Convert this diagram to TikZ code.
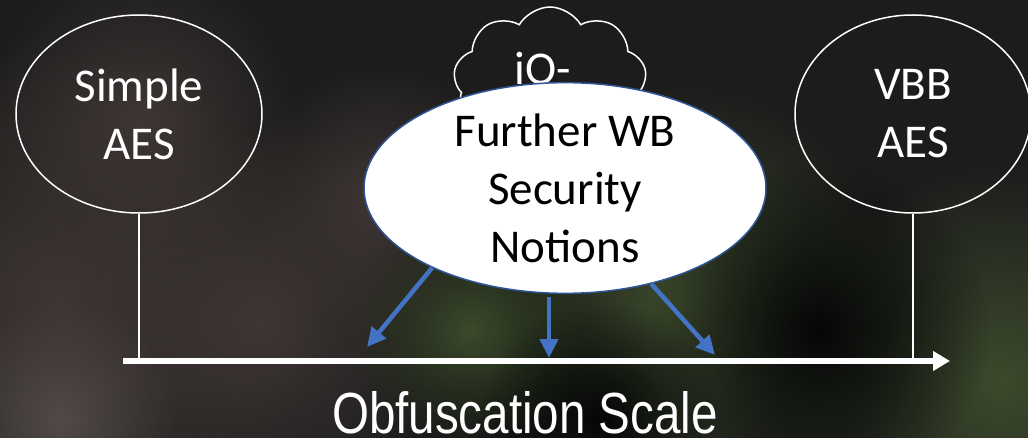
\documentclass[tikz,border=0pt]{standalone}
\usepackage{fontspec}
\setmainfont{Carlito}
\newfontfamily\scalefont[FakeStretch=0.82]{Liberation Sans}
\usetikzlibrary{shapes.geometric,shapes.symbols,arrows.meta,fadings}
\definecolor{bgdark}{HTML}{1C1C1C}
\definecolor{bgwarm}{HTML}{3E3634}
\definecolor{bggreen}{HTML}{3C4A2C}
\definecolor{bgblack}{HTML}{050706}
\definecolor{rimblue}{HTML}{2F5597}
\definecolor{arrowblue}{HTML}{4472C4}
\tikzfading[name=softspot, inner color=transparent!0, outer color=transparent!100]
\tikzset{
  level/.style={ellipse, draw=white, line width=1.5pt, inner sep=0pt,
    minimum width=246pt, minimum height=198pt, text=white, align=center,
    font=\fontsize{47}{58}\selectfont},
  notion/.style={ellipse, draw=rimblue, line width=1.5pt, fill=white, inner sep=0pt,
    minimum width=402pt, minimum height=192pt, text=black, align=center,
    font=\fontsize{47}{58}\selectfont},
  puff/.style={cloud, cloud puffs=9, cloud puff arc=120, aspect=1.3, draw=white,
    line width=1.5pt, inner sep=0pt, minimum width=193pt, minimum height=150pt},
  stem/.style={draw=white, line width=1.5pt},
  axis/.style={draw=white, line width=6pt, -{Triangle[length=17pt,width=19pt]}},
  push/.style={draw=arrowblue, line width=4.5pt, -{Triangle[length=19pt,width=18pt]}},
  glow/.style={fill=#1, path fading=softspot}
}
\begin{document}
\begin{tikzpicture}[x=1pt,y=-1pt]
  % backdrop: dark, with soft warm patches on the left and green ones on the right
  \fill[bgdark] (0,0) rectangle (1028,438);
  \useasboundingbox (0,0) rectangle (1028,438);
  \begin{scope}
    \clip (0,0) rectangle (1028,438);
    \fill[glow=bgwarm] (60,300) circle (260);
    \fill[glow=bgwarm] (260,320) circle (200);
    \fill[glow=bgwarm] (140,120) circle (160);
    \fill[glow=bgwarm] (380,200) circle (140);
    \fill[glow=bgwarm!90!white] (60,420) circle (120);
    \fill[glow=bgblack] (520,330) circle (160);
    \fill[glow=bggreen] (680,300) circle (220);
    \fill[glow=bggreen] (1000,380) circle (220);
    \fill[glow=bggreen] (470,330) circle (120);
    \fill[glow=bgblack] (820,330) circle (170);
    \fill[glow=bgblack] (600,420) circle (120);
  \end{scope}

  % endpoints of the scale
  \node[level] (sa) at (139,114) {Simple\\AES};
  \node[level, minimum width=236pt] (va) at (913,114) {VBB\\AES};

  % the scale itself
  \coordinate (start) at (123,361);
  \coordinate (finish) at (950,361);
  \draw[stem] (sa.south) -- (sa.south |- start);
  \draw[stem] (va.south) -- (va.south |- start);
  \draw[axis] (start) -- (finish);

  % cloud with its label
  \node[puff] (cl) at (550,82) {};
  \node[text=white, font=\fontsize{47}{58}\selectfont] (io) at (543,68) {iO-};

  % further notions and where they land on the scale
  \node[notion] (fw) at (565,188) {Further WB\\Security\\Notions};
  \coordinate (t1) at (367,347);
  \coordinate (t2) at (549,358);
  \coordinate (t3) at (715,355);
  \draw[push] (fw.211) -- (t1);
  \draw[push] (t2 |- fw.south) ++(0,3) -- (t2);
  \draw[push] (fw.312) -- (t3);

  \node[text=white, anchor=base, inner sep=0pt, font=\scalefont\fontsize{58}{64}\selectfont] (os) at (525,433) {Obfuscation Scale};
\end{tikzpicture}
\end{document}
